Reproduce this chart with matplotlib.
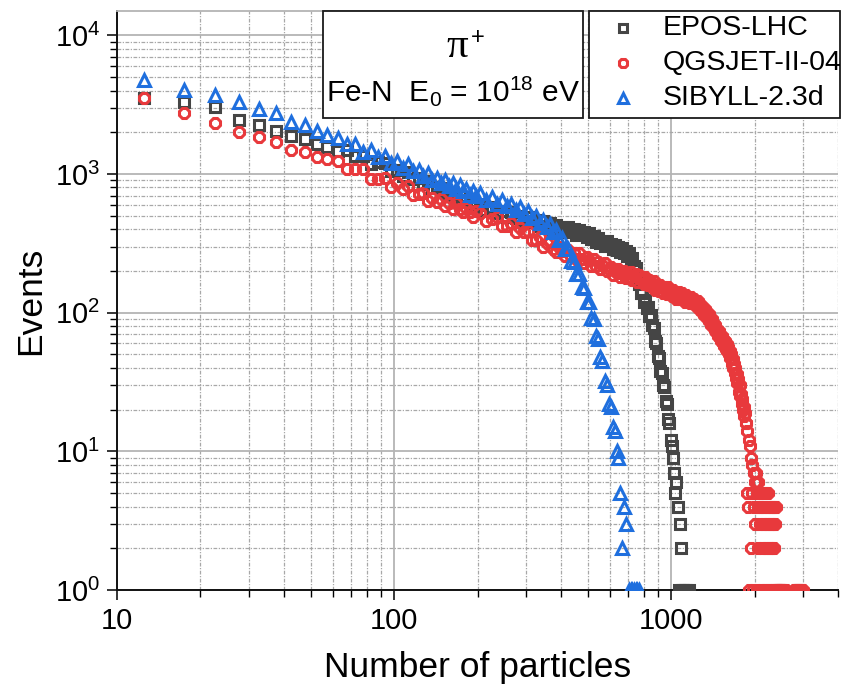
import numpy as np
import matplotlib
matplotlib.use("Agg")
import matplotlib.pyplot as plt
from matplotlib.patches import Rectangle
from matplotlib.ticker import LogLocator, FixedLocator, NullFormatter, FuncFormatter

plt.rcParams['font.family'] = ['Liberation Sans', 'DejaVu Sans']
plt.rcParams['mathtext.fontset'] = 'custom'
plt.rcParams['mathtext.rm'] = 'Liberation Sans'
plt.rcParams['mathtext.it'] = 'Liberation Sans:italic'
plt.rcParams['mathtext.bf'] = 'Liberation Sans:bold'

# histogram bin centres: 5-wide bins below 200 particles, 10-wide above
bin_centres = np.concatenate([np.arange(12.5, 200, 5.0), np.arange(205, 3000, 10.0)])

models = ['EPOS-LHC', 'QGSJET-II-04', 'SIBYLL-2.3d']

# events per bin (zero-count bins are not drawn on the log axis)
epos_counts = [
    3550, 3300, 3040, 2440, 2245, 2030, 1870, 1780, 1660, 1580,
    1474, 1498, 1343, 1349, 1188, 1224, 1208, 1056, 1071, 969,
    1029, 917, 937, 845, 884, 795, 811, 739, 788, 708,
    731, 662, 699, 635, 653, 600, 636, 582,
    603, 547, 578, 527, 541, 492, 532, 482, 502, 459,
    489, 448, 463, 424, 461, 420, 440, 404, 432, 397,
    412, 383, 415, 379, 400, 366, 397, 368, 380, 351,
    377, 341, 355, 325, 346, 317, 328, 302, 330, 301,
    315, 290, 310, 285, 296, 275, 293, 270, 279, 257,
    268, 240, 248, 218, 211, 173, 160, 139, 138, 120,
    123, 108, 110, 95, 96, 81, 78, 63, 60, 49,
    47, 38, 37, 30, 29, 23, 22, 17, 16, 12,
    11, 9, 7, 5, 6, 4, 1, 3, 2, 1,
    1, 0, 1, 1, 0, 1,
]

qgsjet_counts = [
    3560, 2750, 2330, 2010, 1850, 1700, 1480, 1440, 1330, 1290,
    1248, 1085, 1091, 1081, 926, 926, 940, 808, 855, 776,
    818, 709, 722, 728, 639, 675, 626, 662, 591, 621,
    561, 615, 558, 530, 569, 536, 494, 540,
    525, 462, 477, 491, 419, 424, 445, 379, 406, 381,
    390, 337, 333, 349, 299, 319, 326, 286, 274, 296,
    279, 255, 285, 256, 268, 243, 270, 243, 229, 252,
    238, 216, 242, 216, 231, 206, 220, 228, 200, 205,
    214, 188, 206, 192, 208, 182, 192, 200, 179, 193,
    179, 198, 173, 185, 189, 167, 187, 171, 177, 162,
    180, 165, 158, 172, 156, 165, 169, 147, 154, 158,
    143, 158, 144, 138, 153, 146, 137, 152, 136, 145,
    132, 146, 135, 142, 126, 138, 142, 126, 132, 138,
    125, 133, 120, 135, 122, 128, 118, 129, 118, 123,
    125, 113, 120, 111, 122, 106, 115, 107, 113, 102,
    107, 97, 107, 96, 100, 90, 98, 87, 91, 82,
    90, 81, 83, 75, 81, 72, 75, 68, 74, 66,
    69, 62, 68, 60, 64, 58, 62, 55, 59, 53,
    57, 50, 53, 47, 50, 43, 46, 40, 43, 37,
    40, 34, 36, 31, 33, 27, 30, 25, 26, 22,
    24, 20, 21, 18, 19, 16,
    16, 5, 14, 4, 12, 1, 11, 2, 9, 5,
    8, 1, 7, 4, 6, 3, 7, 1, 5, 2,
    6, 4, 3, 5, 1, 4, 2, 5, 3, 1,
    4, 2, 5, 3, 1, 4, 2, 3, 5, 1,
    4, 2, 3, 1, 4, 2, 3, 1, 4, 2,
    3, 1, 4, 1, 1, 1, 0, 1, 1, 1,
    0, 1, 1, 0, 1, 1, 0, 1, 1, 0,
    0, 0, 0, 0, 1, 0, 0, 0, 0, 0,
    0, 0, 0, 0, 0, 0, 0, 0, 0, 0,
    0, 1, 0, 1, 0, 1, 0, 1, 0, 1,
    0, 0, 1, 0, 1, 0, 0, 1, 0, 1,
    0, 0, 1, 0,
]

sibyll_counts = [
    4800, 4060, 3740, 3300, 2930, 2750, 2370, 2250, 2060, 1900,
    1816, 1639, 1654, 1450, 1483, 1329, 1352, 1200, 1236, 1102,
    1176, 1048, 1076, 970, 1014, 907, 942, 865, 905, 816,
    855, 778, 830, 749, 779, 710, 754, 691,
    728, 653, 680, 608, 651, 585, 605, 548, 578, 518,
    544, 485, 500, 445, 466, 415, 434, 384, 393, 336,
    343, 288, 286, 236, 234, 190, 189, 152, 150, 120,
    120, 92, 90, 68, 65, 48, 45, 32, 30, 22,
    21, 15, 14, 10, 9, 5, 2, 4, 3, 0,
    1, 1, 1, 1, 1, 1, 1,
]

colors = ['#454545', '#e8393c', '#1f6fde']
markers = ['s', '8', '^']
msizes = [7.0, 8.2, 9.2]

fig = plt.figure(figsize=(8.41, 6.95), dpi=100)
ax = fig.add_axes([117 / 841, 105 / 695, 721 / 841, 579 / 695])
ax.set_xscale('log')
ax.set_yscale('log')

for counts, c, m, ms in zip([epos_counts, qgsjet_counts, sibyll_counts], colors, markers, msizes):
    y = np.asarray(counts, dtype=float)
    x = bin_centres[:len(y)]
    keep = y > 0
    ax.plot(x[keep], y[keep], ls='none', marker=m, ms=ms, mfc='none',
            mec=c, mew=2.2, zorder=3)

ax.set_xlim(10, 4000)
ax.set_ylim(1, 1.5e4)

ax.xaxis.set_major_locator(FixedLocator([10, 100, 1000]))
ax.xaxis.set_minor_locator(LogLocator(base=10, subs=range(2, 10), numticks=20))
ax.xaxis.set_major_formatter(FuncFormatter(lambda v, p: f'{v:g}'))
ax.xaxis.set_minor_formatter(NullFormatter())
ax.yaxis.set_major_locator(LogLocator(base=10, numticks=10))
ax.yaxis.set_minor_locator(LogLocator(base=10, subs=range(2, 10), numticks=20))
ax.yaxis.set_minor_formatter(NullFormatter())

ax.tick_params(which='major', direction='out', length=7, width=1.1, labelsize=21,
               top=False, right=False, pad=5)
ax.tick_params(which='minor', direction='out', length=5, width=1.0,
               top=False, right=False)

ax.set_axisbelow(True)
ax.grid(True, which='major', color='#b4b4b4', lw=1.3, ls='-')
ax.grid(True, which='minor', color='#a8a8a8', lw=0.9, ls=(0, (3, 1.2, 1, 1.2)))

ax.spines['right'].set_visible(False)
ax.spines['top'].set_color('#b4b4b4')
ax.spines['top'].set_linewidth(1.3)
for s in ('left', 'bottom'):
    ax.spines[s].set_color('#111111')
    ax.spines[s].set_linewidth(1.4)

ax.set_xlabel('Number of particles', fontsize=25.5)
ax.set_ylabel('Events', fontsize=25.5)
ax.xaxis.set_label_coords(0.5, -0.105)
ax.yaxis.set_label_coords(-0.097, 0.5)

# info box
bx0, bx1, by0 = 0.2857, 0.6463, 0.8152
ax.add_patch(Rectangle((bx0, by0), bx1 - bx0, 1 - by0, transform=ax.transAxes,
                       facecolor='white', edgecolor='#1a1a1a', lw=1.3,
                       zorder=5, clip_on=False))
ax.text((457 - 117) / 721, (590 - 47) / 579, 'π', transform=ax.transAxes,
        family='Liberation Serif', fontsize=31, ha='center', va='center', zorder=6)
ax.text((478 - 117) / 721, (590 - 38) / 579, '+', transform=ax.transAxes,
        fontsize=17, ha='center', va='center', zorder=6)
ax.text((bx0 + bx1) / 2, (590 - 101) / 579, r'Fe-N  E$_0$ = 10$^{18}$ eV',
        transform=ax.transAxes, fontsize=21.5, ha='center', va='baseline', zorder=6)

# legend box
lx0 = 0.6546
ax.add_patch(Rectangle((lx0, by0), (840 - 117) / 721 - lx0, 1 - by0, transform=ax.transAxes,
                       facecolor='white', edgecolor='#1a1a1a', lw=1.3,
                       zorder=5, clip_on=False))
rows = [(590 - 28) / 579, (590 - 63) / 579, (590 - 98) / 579]
for name, c, m, ms, ry in zip(models, colors, markers, msizes, rows):
    ax.plot([(623 - 117) / 721], [ry], transform=ax.transAxes, ls='none', marker=m,
            ms=ms * 0.85, mfc='none', mec=c, mew=2.2, zorder=6, clip_on=False)
    ax.text((663 - 117) / 721, ry, name, transform=ax.transAxes, fontsize=20.5,
            ha='left', va='center', zorder=6)

fig.savefig('out.png', dpi=100, facecolor='white')
